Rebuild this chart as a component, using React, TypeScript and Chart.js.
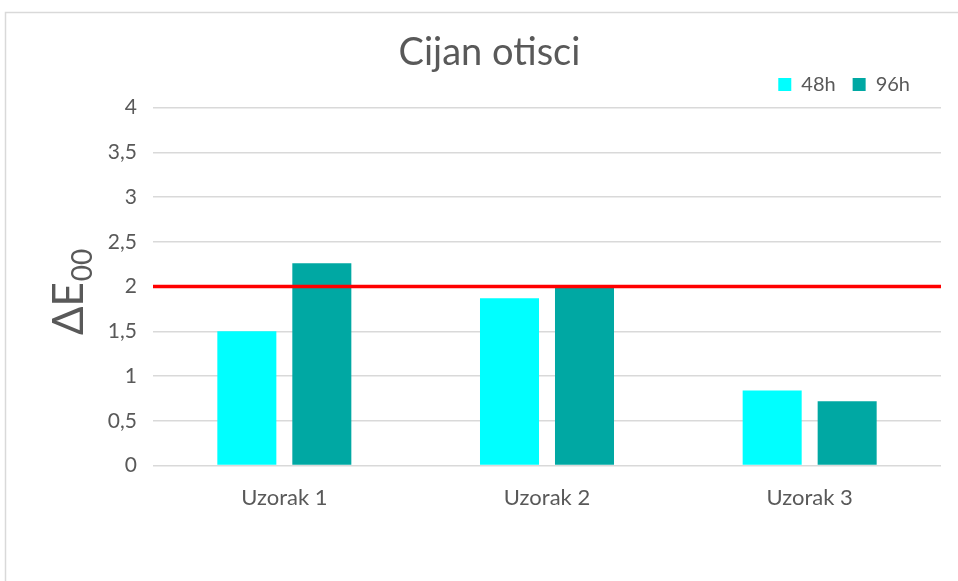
import { useEffect, useRef } from 'react';
import { Chart, registerables } from 'chart.js';

Chart.register(...registerables);

const categories = ['Uzorak 1', 'Uzorak 2', 'Uzorak 3'];
const seriesLabels = ['48h', '96h'];
const series48h = [1.5, 1.87, 0.84];
const series96h = [2.26, 2.0, 0.72];
const thresholdValue = 2;
const yMin = 0;
const yMax = 4;
const yStep = 0.5;
const chartTitle = 'Cijan otisci';
const yTitleMain = 'ΔE';
const yTitleSub = '00';

const FONT = 'Lato, "Open Sans", sans-serif';
const GRAY = '#595959';

const framePlugin = {
  id: 'frame',
  beforeDraw(chart: any) {
    const ctx = chart.ctx;
    ctx.save();
    ctx.fillStyle = '#ffffff';
    ctx.fillRect(0, 0, chart.width, chart.height);
    ctx.strokeStyle = '#d9d9d9';
    ctx.lineWidth = 1.5;
    ctx.strokeRect(5.5, 12.5, chart.width + 20, chart.height + 20);
    ctx.restore();
  },
};

const shiftPlugin = {
  id: 'shiftBoxes',
  afterLayout(chart: any) {
    const t = chart.titleBlock;
    if (t) {
      t.left += 19;
      t.right += 19;
      t.top += 15;
      t.bottom += 15;
    }
    const l = chart.legend;
    if (l) {
      l.left -= 14;
      l.right -= 14;
      l.top -= 3;
      l.bottom -= 3;
    }
  },
};

const thresholdPlugin = {
  id: 'threshold',
  afterDatasetsDraw(chart: any) {
    const { ctx, chartArea, scales } = chart;
    const y = scales.y.getPixelForValue(thresholdValue);
    ctx.save();
    ctx.strokeStyle = '#ff0000';
    ctx.lineWidth = 3.5;
    ctx.beginPath();
    ctx.moveTo(chartArea.left, y);
    ctx.lineTo(chartArea.right, y);
    ctx.stroke();
    ctx.restore();
  },
};

const yTitlePlugin = {
  id: 'yTitle',
  afterDraw(chart: any) {
    const ctx = chart.ctx;
    ctx.save();
    ctx.translate(83, 335);
    ctx.rotate(-Math.PI / 2);
    ctx.fillStyle = GRAY;
    ctx.textAlign = 'left';
    ctx.textBaseline = 'alphabetic';
    ctx.font = `42px ${FONT}`;
    ctx.fillText(yTitleMain, 0, 0);
    const w = ctx.measureText(yTitleMain).width;
    ctx.font = `28px ${FONT}`;
    ctx.fillText(yTitleSub, w + 1, 9);
    ctx.restore();
  },
};

export default function App() {
  const ref = useRef<HTMLCanvasElement | null>(null);

  useEffect(() => {
    if (!ref.current) return;
    const chart = new Chart(ref.current, {
      type: 'bar',
      data: {
        labels: categories,
        datasets: [
          {
            label: seriesLabels[0],
            data: series48h,
            backgroundColor: '#00ffff',
            borderWidth: 0,
            categoryPercentage: 0.571,
            barPercentage: 0.787,
          },
          {
            label: seriesLabels[1],
            data: series96h,
            backgroundColor: '#00a8a3',
            borderWidth: 0,
            categoryPercentage: 0.571,
            barPercentage: 0.787,
          },
        ],
      },
      options: {
        animation: false,
        responsive: false,
        maintainAspectRatio: false,
        layout: { padding: { left: 0, right: 17, top: 15, bottom: 51 } },
        plugins: {
          title: {
            display: true,
            text: chartTitle,
            color: GRAY,
            font: { family: FONT, size: 38, weight: 'normal' },
            padding: 0,
          },
          legend: {
            display: true,
            position: 'top',
            align: 'end',
            labels: {
              boxWidth: 13,
              boxHeight: 13,
              padding: 17,
              color: GRAY,
              font: { family: FONT, size: 20 },
            },
          },
          tooltip: { enabled: false },
        },
        scales: {
          x: {
            grid: { display: false, drawTicks: false },
            border: { display: false },
            ticks: {
              color: GRAY,
              font: { family: FONT, size: 22 },
              padding: 19,
            },
          },
          y: {
            min: yMin,
            max: yMax,
            afterFit(scale: any) {
              scale.width = 153;
            },
            grid: { color: '#d9d9d9', lineWidth: 1.5, drawTicks: false },
            border: { display: false },
            ticks: {
              stepSize: yStep,
              color: GRAY,
              font: { family: FONT, size: 21 },
              padding: 16,
              callback: (v: any) => String(v).replace('.', ','),
            },
          },
        },
      },
      plugins: [framePlugin, shiftPlugin, thresholdPlugin, yTitlePlugin],
    });
    return () => chart.destroy();
  }, []);

  return (
    <div style={{ position: 'fixed', left: 0, top: 0, width: 958, height: 581 }}>
      <canvas ref={ref} width={958} height={581} style={{ display: 'block' }} />
    </div>
  );
}
